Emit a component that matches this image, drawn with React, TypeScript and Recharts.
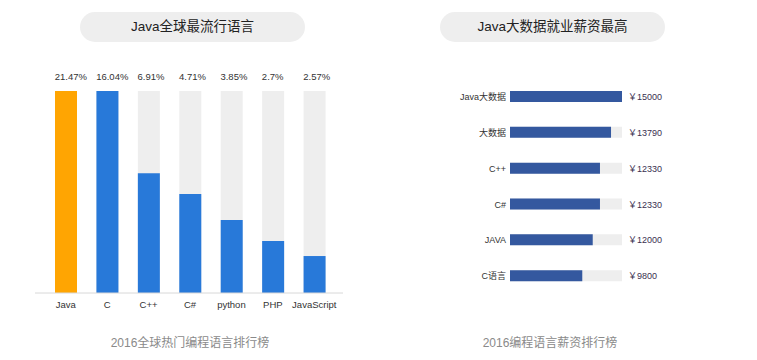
import { BarChart, Bar, XAxis, YAxis, Cell } from "recharts"

const languages = ["Java", "C", "C++", "C#", "python", "PHP", "JavaScript"]
const shareLabels = ["21.47%", "16.04%", "6.91%", "4.71%", "3.85%", "2.7%", "2.57%"]
// bar heights as drawn in the picture (percent of the full column)
const shareLevels = [100, 100, 59.3, 49, 36.1, 25.7, 18.3]

const jobs = ["Java大数据", "大数据", "C++", "C#", "JAVA", "C语言"]
const salaries = [15000, 13790, 12330, 12330, 12000, 9800]
// bar lengths as drawn in the picture
const salaryLevels = [15000, 13530, 12050, 12050, 11080, 9680]

const font = "'Liberation Sans', 'Noto Sans CJK SC', sans-serif"

const Pill = ({ text, left }: { text: string; left: number }) => (
  <div
    style={{
      position: "absolute",
      left,
      top: 12,
      width: 225,
      height: 30,
      borderRadius: 15,
      background: "#eeeeee",
      color: "#222",
      fontSize: 13.5,
      lineHeight: "30px",
      textAlign: "center",
      fontFamily: font,
    }}
  >
    {text}
  </div>
)

const Footer = ({ text, center }: { text: string; center: number }) => (
  <div
    style={{
      position: "absolute",
      left: center - 100,
      top: 333,
      width: 200,
      textAlign: "center",
      fontSize: 12,
      color: "#8a8a8a",
      fontFamily: font,
    }}
  >
    {text}
  </div>
)

export default function App() {
  const shareData = languages.map((name, i) => ({ name, level: shareLevels[i] }))
  const salaryData = jobs.map((name, i) => ({ name, level: salaryLevels[i] }))

  return (
    <div style={{ position: "absolute", left: 0, top: 0, width: 757, height: 360, background: "#fff", fontFamily: font }}>
      <Pill text="Java全球最流行语言" left={80} />
      <Pill text="Java大数据就业薪资最高" left={440} />

      <div style={{ position: "absolute", left: 0, top: 0 }}>
        <BarChart width={360} height={330} data={shareData} margin={{ top: 61, right: 17, bottom: 7, left: 35 }}>
          <XAxis
            dataKey="name"
            xAxisId="bottom"
            padding={{ left: 10, right: 8 }}
            axisLine={{ stroke: "#d8d8d8" }}
            tickLine={false}
            interval={0}
            tick={{ fontSize: 9.5, fill: "#333" }}
          />
          <XAxis
            dataKey="name"
            xAxisId="top"
            orientation="top"
            padding={{ left: 10, right: 8 }}
            axisLine={false}
            tickLine={false}
            tickMargin={5}
            interval={0}
            tickFormatter={(_v: string, i: number) => shareLabels[i]}
            tick={{ fontSize: 9.5, fill: "#333", textAnchor: "start", dx: -11 }}
          />
          <YAxis hide domain={[0, 100]} />
          <Bar
            dataKey="level"
            xAxisId="bottom"
            barSize={22}
            background={{ fill: "#eeeeee" }}
            isAnimationActive={false}
          >
            {shareData.map((d, i) => (
              <Cell key={d.name} fill={i === 0 ? "#ffa502" : "#2879d9"} />
            ))}
          </Bar>
        </BarChart>
      </div>

      <div style={{ position: "absolute", left: 400, top: 0 }}>
        <BarChart
          layout="vertical"
          width={340}
          height={330}
          data={salaryData}
          margin={{ top: 79, right: 58, bottom: 36, left: 10 }}
        >
          <XAxis type="number" hide domain={[0, 15000]} />
          <YAxis
            type="category"
            dataKey="name"
            yAxisId="left"
            width={100}
            axisLine={false}
            tickLine={false}
            tickSize={0}
            tickMargin={4}
            interval={0}
            tick={{ fontSize: 9, fill: "#333" }}
          />
          <YAxis
            type="category"
            dataKey="name"
            yAxisId="right"
            orientation="right"
            width={60}
            axisLine={false}
            tickLine={false}
            tickSize={0}
            tickMargin={6}
            interval={0}
            tickFormatter={(_v: string, i: number) => `￥${salaries[i]}`}
            tick={{ fontSize: 9, fill: "#3a3050", textAnchor: "start" }}
          />
          <Bar
            dataKey="level"
            yAxisId="left"
            barSize={11}
            fill="#34589f"
            background={{ fill: "#eeeeee" }}
            isAnimationActive={false}
          />
        </BarChart>
      </div>

      <Footer text="2016全球热门编程语言排行榜" center={190} />
      <Footer text="2016编程语言薪资排行榜" center={550} />
    </div>
  )
}
